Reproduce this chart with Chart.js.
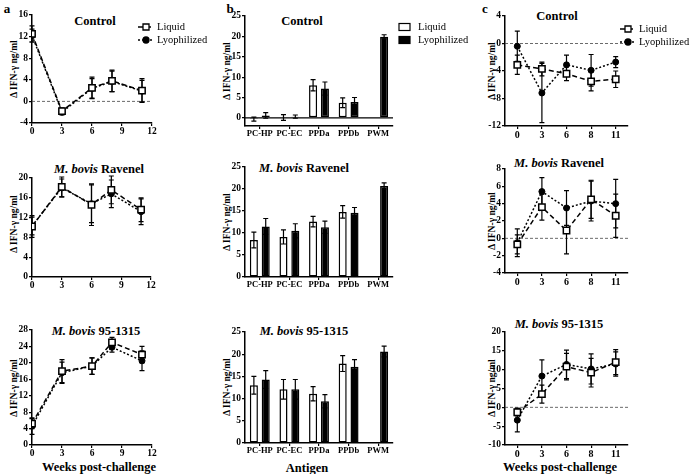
<!DOCTYPE html>
<html>
<head>
<meta charset="utf-8">
<script src="https://cdn.jsdelivr.net/npm/chart.js@4.4.1/dist/chart.umd.min.js"></script>
<style>
  body { margin: 0; background: #fff; }
  #fig { position: relative; width: 691px; height: 474px; overflow: hidden; font-family: "Liberation Serif", "Times New Roman", serif; color: #000; }
  #fig canvas { position: absolute; }
  .t { position: absolute; transform: translate(-50%, -50%); white-space: nowrap; font-weight: bold; }
  .ttl { font-size: 12.5px; }
  .yt { font-size: 9.5px; transform: translate(-50%, -50%) rotate(-90deg); }
  .lt { font-size: 13px; }
</style>
</head>
<body>
<div id="fig">
  <div class="t lt" style="left:7px;top:9px">a</div>
  <div class="t lt" style="left:230px;top:9px">b</div>
  <div class="t lt" style="left:485px;top:9px">c</div>

  <div class="t ttl" style="left:95px;top:21px">Control</div>
  <div class="t ttl" style="left:99px;top:169px"><i>M. bovis</i> Ravenel</div>
  <div class="t ttl" style="left:96px;top:331px"><i>M. bovis</i> 95-1315</div>
  <div class="t ttl" style="left:302px;top:21px">Control</div>
  <div class="t ttl" style="left:304px;top:168px"><i>M. bovis</i> Ravenel</div>
  <div class="t ttl" style="left:304px;top:331px"><i>M. bovis</i> 95-1315</div>
  <div class="t ttl" style="left:557px;top:16px">Control</div>
  <div class="t ttl" style="left:559px;top:163px"><i>M. bovis</i> Ravenel</div>
  <div class="t ttl" style="left:559px;top:324px"><i>M. bovis</i> 95-1315</div>

  <div class="t yt" style="left:14px;top:69px">Δ IFN-γ ng/ml</div>
  <div class="t yt" style="left:14px;top:224px">Δ IFN-γ ng/ml</div>
  <div class="t yt" style="left:14px;top:388px">Δ IFN-γ ng/ml</div>
  <div class="t yt" style="left:227px;top:71px">Δ IFN-γ ng/ml</div>
  <div class="t yt" style="left:227px;top:222px">Δ IFN-γ ng/ml</div>
  <div class="t yt" style="left:227px;top:387px">Δ IFN-γ ng/ml</div>
  <div class="t yt" style="left:492px;top:71px">Δ IFN-γ ng/ml</div>
  <div class="t yt" style="left:492px;top:221px">Δ IFN-γ ng/ml</div>
  <div class="t yt" style="left:492px;top:388px">Δ IFN-γ ng/ml</div>

  <div class="t ttl" style="left:99px;top:467px">Weeks post-challenge</div>
  <div class="t ttl" style="left:307px;top:468px">Antigen</div>
  <div class="t ttl" style="left:560px;top:467px">Weeks post-challenge</div>

  <canvas id="a1"></canvas><canvas id="a2"></canvas><canvas id="a3"></canvas>
  <canvas id="b1"></canvas><canvas id="b2"></canvas><canvas id="b3"></canvas>
  <canvas id="c1"></canvas><canvas id="c2"></canvas><canvas id="c3"></canvas>
</div>
<script>
const weeks = [0, 3, 6, 8, 11];
const weekLabels = ['0', '3', '6', '8', '11'];
const antigens = ['PC-HP', 'PC-EC', 'PPDa', 'PPDb', 'PWM'];

// panel a
const aCtrlLiquid = [12.5, -1.8, 2.5, 3.8, 2.0];
const aCtrlLyo = [12.2, -2.0, 2.4, 3.7, 1.9];
const aCtrlLiquidErr = [1.5, 0.6, 2.0, 2.0, 2.2];
const aCtrlLyoErr = [1.2, 0.5, 1.8, 1.9, 2.0];
const aRavLiquid = [10.2, 18.2, 14.6, 17.6, 13.6];
const aRavLyo = [10.3, 18.0, 14.8, 16.8, 13.2];
const aRavLiquidErr = [2.2, 2.0, 4.2, 2.8, 2.4];
const aRavLyoErr = [1.8, 1.8, 3.8, 2.8, 2.6];
const a95Liquid = [5.2, 18.0, 19.2, 25.0, 22.0];
const a95Lyo = [4.6, 17.6, 19.2, 23.8, 20.5];
const a95LiquidErr = [1.2, 2.8, 2.0, 1.2, 2.0];
const a95LyoErr = [2.0, 2.6, 2.0, 1.2, 2.4];

// panel b
const bCtrlLiquid = [-0.3, 0.1, 8.0, 3.7, null];
const bCtrlLyo = [0.6, 0.3, 7.2, 3.9, 19.9];
const bCtrlLiquidErr = [0.5, 0.7, 1.4, 1.2, 0];
const bCtrlLyoErr = [0.7, 0.4, 1.6, 1.1, 0.5];
const bRavLiquid = [8.4, 9.1, 12.6, 14.8, null];
const bRavLyo = [11.5, 10.5, 11.3, 14.6, 20.7];
const bRavLiquidErr = [1.8, 1.6, 1.2, 1.4, 0];
const bRavLyoErr = [1.8, 1.6, 1.4, 1.2, 0.7];
const b95Liquid = [13.0, 12.1, 11.1, 17.9, null];
const b95Lyo = [14.3, 12.1, 9.4, 17.2, 20.6];
const b95LiquidErr = [2.0, 2.2, 1.6, 1.8, 0];
const b95LyoErr = [2.0, 2.2, 1.5, 1.6, 1.2];

// panel c
const cCtrlLiquid = [-3.1, -3.7, -4.4, -5.5, -5.2];
const cCtrlLyo = [-0.4, -7.2, -3.1, -3.9, -2.7];
const cCtrlLiquidErr = [1.4, 1.0, 1.0, 1.4, 1.2];
const cCtrlLyoErr = [2.2, 4.3, 1.4, 2.3, 0.8];
const cRavLiquid = [-0.7, 3.6, 0.9, 4.5, 2.6];
const cRavLyo = [-0.5, 5.4, 3.5, 4.3, 4.0];
const cRavLiquidErr = [1.1, 1.5, 2.7, 2.2, 2.5];
const cRavLyoErr = [1.6, 1.6, 2.0, 2.3, 2.8];
const c95Liquid = [-1.3, 3.5, 10.8, 9.2, 12.0];
const c95Lyo = [-3.4, 8.3, 11.4, 10.2, 11.5];
const c95LiquidErr = [1.0, 2.4, 3.5, 3.8, 3.3];
const c95LyoErr = [3.1, 4.3, 3.8, 4.0, 3.2];

const YW = 26, XH = 18, PT = 10;
const FONT = '"Liberation Serif", "Times New Roman", serif';
const tickFont = { family: FONT, size: 9.5, weight: 'bold' };

function axisGrid() {
    return { drawOnChartArea: false, drawTicks: true, tickLength: 3, color: '#000', lineWidth: 1.2, offset: false };
}

function yAxis(min, max, step) {
    return {
        min: min, max: max,
        ticks: { stepSize: step, includeBounds: false, color: '#000', font: tickFont, padding: 1 },
        grid: axisGrid(),
        border: { color: '#000', width: 1.5 },
        afterFit: function(s) { s.width = YW; }
    };
}

function xWeeks() {
    return {
        type: 'linear', min: 0, max: 12,
        ticks: { stepSize: 3, color: '#000', font: tickFont, padding: 0 },
        grid: axisGrid(),
        border: { color: '#000', width: 1.5 },
        afterFit: function(s) { s.height = XH; }
    };
}

function xCat(size) {
    return {
        type: 'category', offset: true,
        ticks: { color: '#000', font: Object.assign({}, tickFont, { size: size }), padding: 0, maxRotation: 0, autoSkip: false },
        grid: axisGrid(),
        border: { color: '#000', width: 1.5 },
        afterFit: function(s) { s.height = XH; }
    };
}

function lineSets(liq, lyo, xs) {
    const pts = v => xs ? v.map((y, i) => ({ x: xs[i], y: y })) : v;
    return [
        { label: 'Liquid', data: pts(liq), borderColor: '#000', borderWidth: 1.5, borderDash: [5, 3],
          pointStyle: 'rect', pointRadius: 4.5, pointBackgroundColor: '#fff', pointBorderColor: '#000', pointBorderWidth: 1.5 },
        { label: 'Lyophilized', data: pts(lyo), borderColor: '#000', borderWidth: 1.5, borderDash: [2, 2],
          pointStyle: 'circle', pointRadius: 3, pointBackgroundColor: '#000', pointBorderColor: '#000', pointBorderWidth: 1 }
    ];
}

function barSets(liq, lyo) {
    return [
        { label: 'Liquid', data: liq, backgroundColor: '#fff', borderColor: '#000', borderWidth: 1.5, borderSkipped: false,
          categoryPercentage: 0.8, barPercentage: 0.68 },
        { label: 'Lyophilized', data: lyo, backgroundColor: '#000', borderColor: '#000', borderWidth: 1.5, borderSkipped: false,
          categoryPercentage: 0.8, barPercentage: 0.68 }
    ];
}

// error bars drawn from the y scale
function errorBars(errs, front) {
    const draw = function(chart) {
        const ctx = chart.ctx, ys = chart.scales.y;
        ctx.save();
        ctx.strokeStyle = '#000';
        ctx.lineWidth = 1.2;
        ctx.setLineDash([]);
        errs.forEach((err, di) => {
            const meta = chart.getDatasetMeta(di);
            chart.data.datasets[di].data.forEach((d, j) => {
                const v = (d !== null && typeof d === 'object') ? d.y : d;
                if (v === null || v === undefined || !err[j]) return;
                const x = meta.data[j].x;
                const t = ys.getPixelForValue(v + err[j]);
                const b = ys.getPixelForValue(v - err[j]);
                ctx.beginPath();
                ctx.moveTo(x, t); ctx.lineTo(x, b);
                ctx.moveTo(x - 2.5, t); ctx.lineTo(x + 2.5, t);
                ctx.moveTo(x - 2.5, b); ctx.lineTo(x + 2.5, b);
                ctx.stroke();
            });
        });
        ctx.restore();
    };
    return front ? { id: 'errFront', afterDatasetsDraw: draw } : { id: 'errBack', beforeDatasetsDraw: draw };
}

function zeroLine(dash, width) {
    return {
        id: 'zeroLine',
        beforeDatasetsDraw(chart) {
            const ctx = chart.ctx, a = chart.chartArea;
            const y = chart.scales.y.getPixelForValue(0);
            ctx.save();
            ctx.strokeStyle = dash ? '#444' : '#000';
            ctx.lineWidth = width;
            ctx.setLineDash(dash || []);
            ctx.beginPath();
            ctx.moveTo(a.left, y); ctx.lineTo(a.right, y);
            ctx.stroke();
            ctx.restore();
        }
    };
}

// small legend placed at page coordinates
function miniLegend(px, py, kind) {
    return {
        id: 'miniLegend',
        afterDraw(chart) {
            const ctx = chart.ctx, c = chart.canvas;
            const ox = parseFloat(c.style.left), oy = parseFloat(c.style.top);
            const x = px - ox, y0 = py - oy;
            ctx.save();
            ctx.font = '10.5px ' + FONT;
            ctx.textBaseline = 'middle';
            ctx.fillStyle = '#000';
            ctx.strokeStyle = '#000';
            chart.data.datasets.forEach((ds, i) => {
                const y = y0 + i * 13;
                if (kind === 'box') {
                    ctx.lineWidth = 1.2;
                    ctx.fillStyle = ds.backgroundColor;
                    ctx.fillRect(x, y - 3.5, 11, 7);
                    ctx.strokeRect(x, y - 3.5, 11, 7);
                    ctx.fillStyle = '#000';
                    ctx.fillText(ds.label, x + 19, y);
                } else {
                    ctx.lineWidth = 1.3;
                    ctx.setLineDash(ds.borderDash);
                    ctx.beginPath(); ctx.moveTo(x - 8, y); ctx.lineTo(x + 8, y); ctx.stroke();
                    ctx.setLineDash([]);
                    ctx.fillStyle = ds.pointBackgroundColor;
                    ctx.beginPath();
                    if (ds.pointStyle === 'rect') ctx.rect(x - 3, y - 3, 6, 6);
                    else ctx.arc(x, y, 3, 0, Math.PI * 2);
                    ctx.fill(); ctx.stroke();
                    ctx.fillStyle = '#000';
                    ctx.fillText(ds.label, x + 11, y);
                }
            });
            ctx.restore();
        }
    };
}

function build(id, box, pr, type, labels, datasets, xs, ys, plugins) {
    const cv = document.getElementById(id);
    cv.width = box.x1 - box.x0 + YW + pr;
    cv.height = box.y1 - box.y0 + PT + XH;
    cv.style.left = (box.x0 - YW) + 'px';
    cv.style.top = (box.y0 - PT) + 'px';
    cv.style.width = cv.width + 'px';
    cv.style.height = cv.height + 'px';
    new Chart(cv.getContext('2d'), {
        type: type,
        data: { labels: labels, datasets: datasets },
        options: {
            responsive: false,
            animation: false,
            layout: { padding: { left: 0, top: PT, right: pr, bottom: 0 } },
            scales: { x: xs, y: ys },
            plugins: { legend: { display: false }, tooltip: { enabled: false } }
        },
        plugins: plugins
    });
}

// column a
build('a1', { x0: 32, x1: 152, y0: 15, y1: 123 }, 60, 'line', undefined,
    lineSets(aCtrlLiquid, aCtrlLyo, weeks), xWeeks(), yAxis(-4, 16, 4),
    [zeroLine([3, 2], 0.8), errorBars([aCtrlLiquidErr, aCtrlLyoErr], false), miniLegend(146, 27, 'line')]);
build('a2', { x0: 32, x1: 151, y0: 178, y1: 277 }, 10, 'line', undefined,
    lineSets(aRavLiquid, aRavLyo, weeks), xWeeks(), yAxis(0, 20, 4),
    [errorBars([aRavLiquidErr, aRavLyoErr], false)]);
build('a3', { x0: 32, x1: 152, y0: 330, y1: 445 }, 10, 'line', undefined,
    lineSets(a95Liquid, a95Lyo, weeks), xWeeks(), yAxis(0, 28, 4),
    [errorBars([a95LiquidErr, a95LyoErr], false)]);

// column b
build('b1', { x0: 245, x1: 393, y0: 16, y1: 126 }, 85, 'bar', antigens,
    barSets(bCtrlLiquid, bCtrlLyo), xCat(8.5), yAxis(-2, 25, 5),
    [zeroLine(null, 1.2), errorBars([bCtrlLiquidErr, bCtrlLyoErr], true), miniLegend(399, 27, 'box')]);
build('b2', { x0: 245, x1: 393, y0: 167, y1: 277 }, 10, 'bar', antigens,
    barSets(bRavLiquid, bRavLyo), xCat(8.5), yAxis(0, 25, 5),
    [errorBars([bRavLiquidErr, bRavLyoErr], true)]);
build('b3', { x0: 245, x1: 393, y0: 332, y1: 443 }, 10, 'bar', antigens,
    barSets(b95Liquid, b95Lyo), xCat(8.5), yAxis(0, 25, 5),
    [errorBars([b95LiquidErr, b95LyoErr], true)]);

// column c
build('c1', { x0: 505, x1: 628, y0: 16, y1: 126 }, 63, 'line', weekLabels,
    lineSets(cCtrlLiquid, cCtrlLyo), xCat(10), yAxis(-12, 4, 4),
    [zeroLine([3, 2], 0.8), errorBars([cCtrlLiquidErr, cCtrlLyoErr], false), miniLegend(628, 29, 'line')]);
build('c2', { x0: 505, x1: 628, y0: 169, y1: 273 }, 10, 'line', weekLabels,
    lineSets(cRavLiquid, cRavLyo), xCat(10), yAxis(-4, 8, 2),
    [zeroLine([3, 2], 0.8), errorBars([cRavLiquidErr, cRavLyoErr], false)]);
build('c3', { x0: 505, x1: 628, y0: 332, y1: 445 }, 10, 'line', weekLabels,
    lineSets(c95Liquid, c95Lyo), xCat(10), yAxis(-10, 20, 5),
    [zeroLine([3, 2], 0.8), errorBars([c95LiquidErr, c95LyoErr], false)]);
</script>
</body>
</html>
